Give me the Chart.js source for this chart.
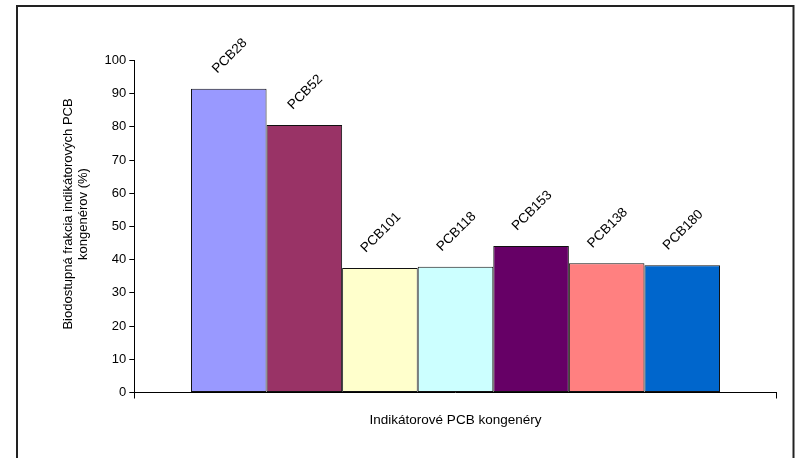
<!DOCTYPE html>
<html>
<head>
<meta charset="utf-8">
<script src="https://cdn.jsdelivr.net/npm/chart.js"></script>
<style>
  html, body { margin: 0; padding: 0; background: #fff; }
  #wrap { position: relative; width: 795px; height: 458px; }
</style>
</head>
<body>
<div id="wrap"><canvas id="pcb-chart"></canvas></div>
<script>
// congener names, bioavailable fraction (%) and bar colours
const congeners = ["PCB28", "PCB52", "PCB101", "PCB118", "PCB153", "PCB138", "PCB180"];
const fraction = [91.5, 80.6, 37.5, 37.9, 44.1, 38.9, 38.3];
const barColors = ["#9999FF", "#993366", "#FFFFCC", "#CCFFFF", "#660066", "#FF8080", "#0066CC"];

const yTicks = [0, 10, 20, 30, 40, 50, 60, 70, 80, 90, 100];
const yTitle = ["Biodostupná frakcia indikátorových PCB", "kongenérov (%)"];
const xTitle = "Indikátorové PCB kongenéry";

const FONT = "'Liberation Sans', Arial, sans-serif";

// one dataset per congener so every bar gets its own name and colour
const datasets = congeners.map((name, i) => ({
  label: name,
  data: [fraction[i]],
  backgroundColor: barColors[i],
  borderColor: "#111",
  borderWidth: 1,
  borderSkipped: false,
  categoryPercentage: 7 / 8.5,
  barPercentage: 1
}));

// frame around the whole figure
const framePlugin = {
  id: "frame",
  beforeDraw(chart) {
    const ctx = chart.ctx;
    ctx.save();
    ctx.fillStyle = "#fff";
    ctx.fillRect(0, 0, chart.width, chart.height);
    ctx.strokeStyle = "#222";
    ctx.lineWidth = 2;
    ctx.strokeRect(17, 6, 776.5, 500);
    ctx.restore();
  }
};

// rotated congener names above each bar
const barNamesPlugin = {
  id: "barNames",
  afterDatasetsDraw(chart) {
    const ctx = chart.ctx;
    ctx.save();
    ctx.font = "13.5px " + FONT;
    ctx.fillStyle = "#000";
    ctx.textAlign = "center";
    ctx.textBaseline = "middle";
    chart.data.datasets.forEach((ds, i) => {
      const bar = chart.getDatasetMeta(i).data[0];
      const w = ctx.measureText(ds.label).width;
      const d = (w + 13) * 0.7071 / 2 + 13;
      ctx.save();
      ctx.translate(bar.x + 1, bar.y - d);
      ctx.rotate(-Math.PI / 4);
      ctx.fillText(ds.label, 0, 0);
      ctx.restore();
    });
    ctx.restore();
  }
};

// two-line y axis title
const yTitlePlugin = {
  id: "yTitle",
  afterDraw(chart) {
    const ctx = chart.ctx;
    ctx.save();
    ctx.font = "13px " + FONT;
    ctx.fillStyle = "#000";
    ctx.textAlign = "center";
    ctx.textBaseline = "middle";
    yTitle.forEach((line, i) => {
      ctx.save();
      ctx.translate(68 + i * 15, 214);
      ctx.rotate(-Math.PI / 2);
      ctx.fillText(line, 0, 0);
      ctx.restore();
    });
    ctx.restore();
  }
};

new Chart(document.getElementById("pcb-chart"), {
  type: "bar",
  data: { labels: [""], datasets: datasets },
  options: {
    responsive: true,
    maintainAspectRatio: false,
    animation: false,
    layout: { padding: { left: 58, top: 60.5, right: 18.3, bottom: 0 } },
    plugins: {
      legend: { display: false },
      tooltip: { enabled: false }
    },
    scales: {
      x: {
        grid: { drawOnChartArea: false, color: "#000", tickLength: 6, offset: true },
        border: { color: "#000", width: 1 },
        ticks: { display: false },
        title: {
          display: true,
          text: xTitle,
          color: "#000",
          font: { family: FONT, size: 13.5 },
          padding: { top: 0, bottom: 30 }
        },
        afterFit(scale) { scale.height = 65.5; }
      },
      y: {
        min: 0,
        max: 100,
        afterBuildTicks(scale) { scale.ticks = yTicks.map(v => ({ value: v })); },
        grid: { drawOnChartArea: false, color: "#000", tickLength: 5 },
        border: { color: "#000", width: 1 },
        ticks: { color: "#000", padding: 3, font: { family: FONT, size: 13 } },
        afterFit(scale) { scale.width = 76.3; }
      }
    }
  },
  plugins: [framePlugin, barNamesPlugin, yTitlePlugin]
});
</script>
</body>
</html>
